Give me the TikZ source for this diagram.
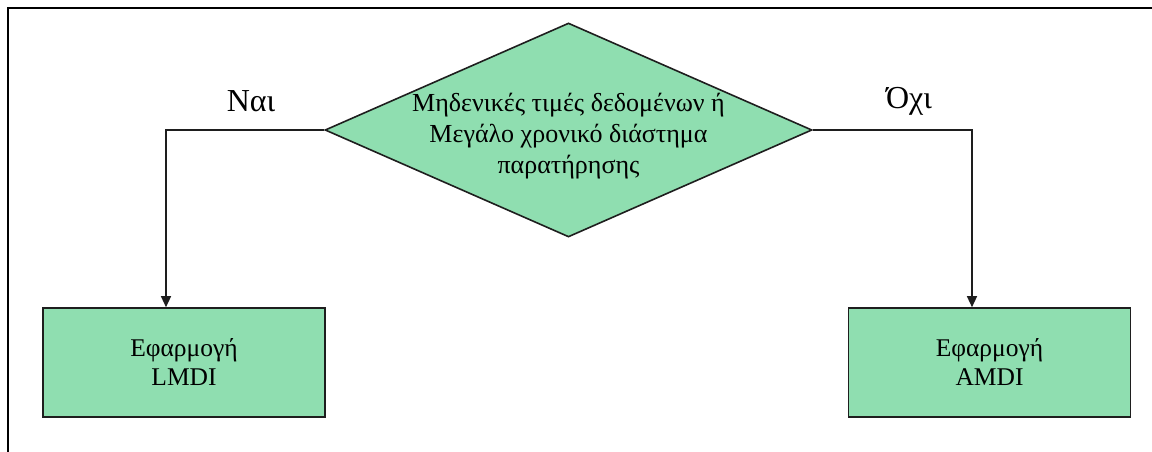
\documentclass[tikz,border=0pt]{standalone}
\usepackage{fontspec}
\setmainfont{Liberation Serif}
\usetikzlibrary{shapes.geometric,arrows.meta}
\definecolor{boxgreen}{RGB}{143,222,176}
\definecolor{linegray}{RGB}{30,30,30}
\tikzset{
  x=1pt, y=-1pt,
  greenfill/.style={fill=boxgreen, draw=linegray, line width=1.6pt},
  procbox/.style={greenfill, rectangle, minimum width=282pt, minimum height=109pt, inner sep=0pt, align=center, font=\fontsize{25.5}{29}\selectfont},
  decision/.style={greenfill, diamond, minimum width=487pt, minimum height=214pt, inner sep=0pt, aspect=2.28},
  dectext/.style={align=center, font=\fontsize{26}{31}\selectfont, inner sep=0pt},
  branch/.style={draw=linegray, line width=1.3pt, -{Triangle[length=11pt,width=10pt]}},
  lbl/.style={font=\fontsize{32}{34}\selectfont, inner sep=0pt},
}
\begin{document}
\begin{tikzpicture}
\useasboundingbox (0,0) rectangle (1152,452);
\fill[white] (0,0) rectangle (1152,452);
\draw[line width=2.4pt, black] (8,452) -- (8,8) -- (1152,8);
\node[decision] (dec) at (568.5,130) {};
\node[dectext] (dectxt) at (568.5,136) {Μηδενικές τιμές δεδομένων ή\\Μεγάλο χρονικό διάστημα\\παρατήρησης};
\node[procbox] (lmdi) at (184,362.5) {Εφαρμογή\\LMDI};
\node[procbox] (amdi) at (989.5,362.5) {Εφαρμογή\\AMDI};
\coordinate (lc) at (166,130);
\coordinate (rc) at (972,130);
\draw[branch] (dec.west) -- (lc) -- (lmdi.north -| lc);
\draw[branch] (dec.east) -- (rc) -- (amdi.north -| rc);
\node[lbl] (yes) at (251,101) {Ναι};
\node[lbl] (no) at (909,101) {Όχι};
\end{tikzpicture}
\end{document}
